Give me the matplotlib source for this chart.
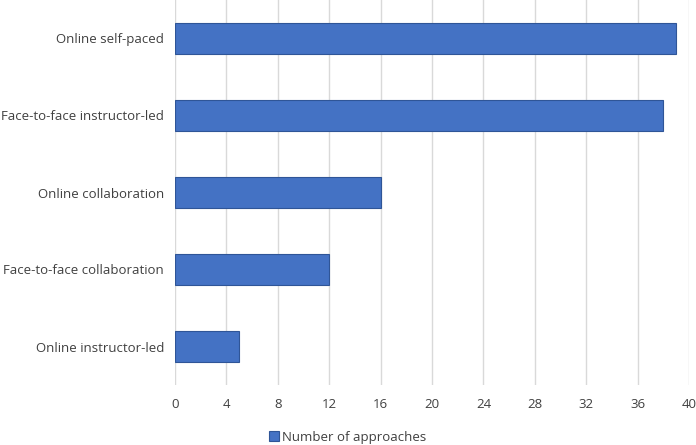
import matplotlib
matplotlib.use("Agg")
import matplotlib.pyplot as plt

categories = ["Online self-paced", "Face-to-face instructor-led", "Online collaboration",
              "Face-to-face collaboration", "Online instructor-led"]
values = [39, 38, 16, 12, 5]
xticks = [0, 4, 8, 12, 16, 20, 24, 28, 32, 36, 40]
series_name = "Number of approaches"

plt.rcParams['font.family'] = ['Open Sans', 'DejaVu Sans']

fig = plt.figure(figsize=(6.96, 4.45), dpi=100)
ax = fig.add_axes([175/696, 1 - 385/445, (689 - 175)/696, 385/445])

y = list(range(len(categories)))
ax.barh(y, values, height=0.4, color="#4472C4", edgecolor="#2F5597", linewidth=0.8,
        label=series_name, zorder=3)
ax.set_yticks(y)
ax.set_yticklabels(categories, fontsize=9.5, color="#404040")
ax.set_ylim(len(categories) - 0.5, -0.5)
ax.set_xlim(0, 40)
ax.set_xticks(xticks)
ax.set_xticklabels([str(t) for t in xticks], fontsize=9.5, color="#404040")
ax.tick_params(axis='both', length=0)
ax.tick_params(axis='x', pad=9)
ax.tick_params(axis='y', pad=8)
ax.grid(axis='x', color="#d9d9d9", linewidth=1, zorder=0)
for s in ax.spines.values():
    s.set_visible(False)

fig.legend(loc='center', bbox_to_anchor=(0.5, 1 - 437/445), frameon=False, fontsize=9.5,
           handlelength=0.7, handleheight=0.7, handletextpad=0.3, labelcolor="#404040")

fig.savefig("out.png", dpi=100)
